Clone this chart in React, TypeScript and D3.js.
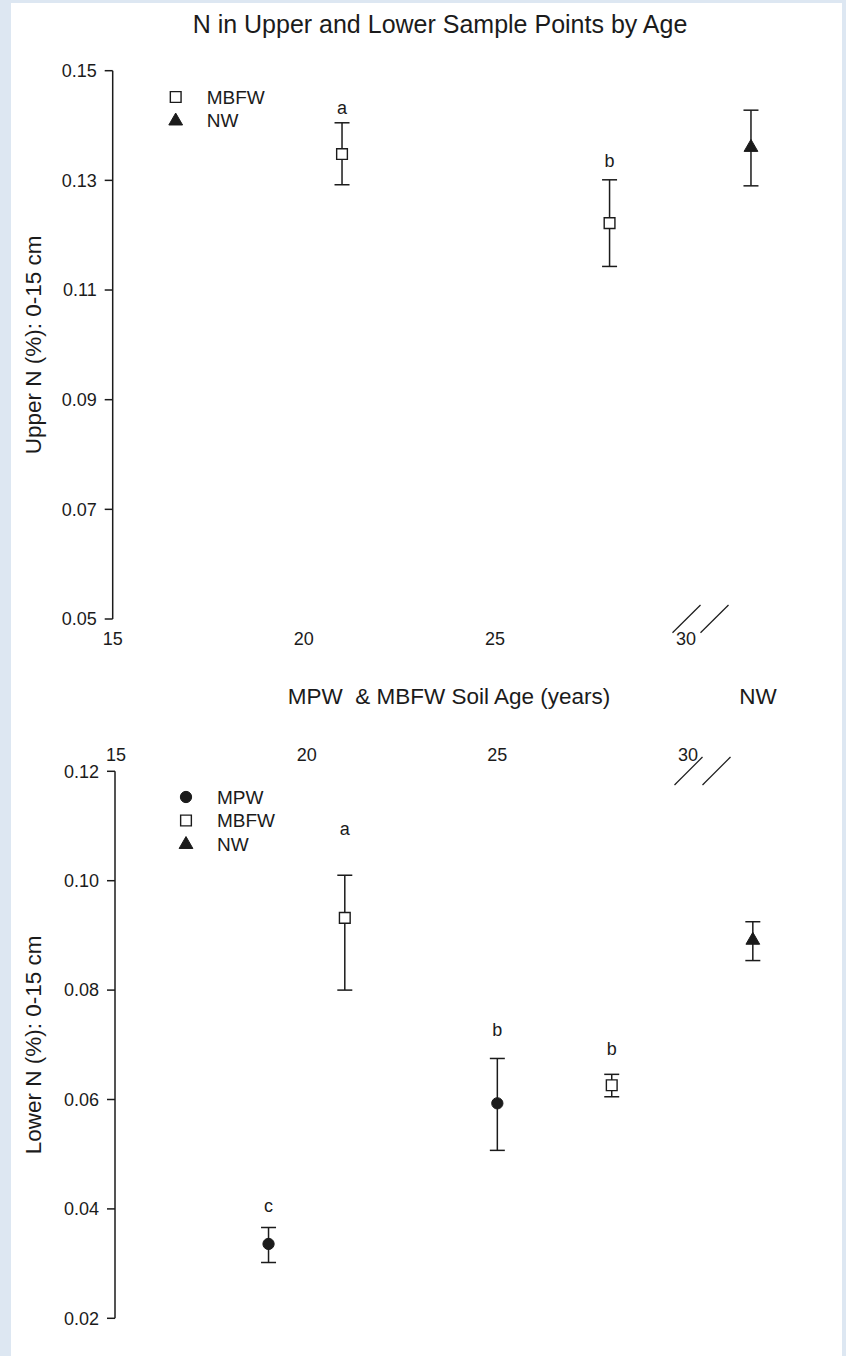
import React from "react";
import * as d3 from "d3";

// ---------- DATA ----------
const upperYTicks = [0.05, 0.07, 0.09, 0.11, 0.13, 0.15];
const lowerYTicks = [0.02, 0.04, 0.06, 0.08, 0.1, 0.12];
const ageTicks = [15, 20, 25, 30];
const nwAxisPos = 31.7; // position of the NW group after the axis break

const upperMBFW = [
  { age: 21, mean: 0.1348, lo: 0.1292, hi: 0.1405, letter: "a" },
  { age: 28, mean: 0.1222, lo: 0.1143, hi: 0.1301, letter: "b" },
];
const upperNW = [{ age: nwAxisPos, mean: 0.1361, lo: 0.129, hi: 0.1428, letter: "" }];

const lowerMPW = [
  { age: 19, mean: 0.0336, lo: 0.0302, hi: 0.0366, letter: "c" },
  { age: 25, mean: 0.0593, lo: 0.0507, hi: 0.0675, letter: "b" },
];
const lowerMBFW = [
  { age: 21, mean: 0.0932, lo: 0.08, hi: 0.101, letter: "a" },
  { age: 28, mean: 0.0626, lo: 0.0605, hi: 0.0646, letter: "b" },
];
const lowerNW = [{ age: nwAxisPos, mean: 0.0892, lo: 0.0854, hi: 0.0925, letter: "" }];

const upperLegend = ["MBFW", "NW"];
const lowerLegend = ["MPW", "MBFW", "NW"];

// ---------- STYLE ----------
const FONT = "'Liberation Sans', Arial, Helvetica, sans-serif";
const INK = "#1b1b1b";
const W = 846;
const H = 1356;
// gap (px) between the upper error cap and the baseline of each significance letter
const GAP_UPPER_MBFW = [9, 13];
const GAP_LOWER_MPW = [15, 22];
const GAP_LOWER_MBFW = [40, 19];

type Pt = { age: number; mean: number; lo: number; hi: number; letter: string };
type Kind = "MPW" | "MBFW" | "NW";

const symPath = (kind: Kind) => {
  if (kind === "MPW") return d3.symbol().type(d3.symbolCircle).size(100)()!;
  if (kind === "MBFW") return d3.symbol().type(d3.symbolSquare).size(115)()!;
  return d3.symbol().type(d3.symbolTriangle).size(82)()!;
};

function Marker({ kind, x, y }: { kind: Kind; x: number; y: number }) {
  const open = kind === "MBFW";
  return (
    <path
      d={symPath(kind)}
      transform={`translate(${x},${y + (kind === "NW" ? 0.5 : 0)})`}
      fill={open ? "#fff" : INK}
      stroke={INK}
      strokeWidth={open ? 1.4 : 1}
    />
  );
}

function Series({
  data,
  kind,
  x,
  y,
  gaps = [],
}: {
  data: Pt[];
  kind: Kind;
  x: d3.ScaleLinear<number, number>;
  y: d3.ScaleLinear<number, number>;
  gaps?: number[];
}) {
  return (
    <g>
      {data.map((d, i) => {
        const cx = x(d.age);
        return (
          <g key={i}>
            <line x1={cx} x2={cx} y1={y(d.hi)} y2={y(d.lo)} stroke={INK} strokeWidth={1.5} />
            <line x1={cx - 7.5} x2={cx + 7.5} y1={y(d.hi)} y2={y(d.hi)} stroke={INK} strokeWidth={1.5} />
            <line x1={cx - 7.5} x2={cx + 7.5} y1={y(d.lo)} y2={y(d.lo)} stroke={INK} strokeWidth={1.5} />
            <Marker kind={kind} x={cx} y={y(d.mean)} />
            {d.letter && (
              <text
                x={cx}
                y={y(d.hi) - (gaps[i] ?? 14)}
                textAnchor="middle"
                fontSize={18}
                fontFamily={FONT}
                fill={INK}
              >
                {d.letter}
              </text>
            )}
          </g>
        );
      })}
    </g>
  );
}

function YAxis({
  y,
  ticks,
  x0,
  title,
}: {
  y: d3.ScaleLinear<number, number>;
  ticks: number[];
  x0: number;
  title: string;
}) {
  const fmt = d3.format(".2f");
  const [a, b] = d3.extent(ticks) as [number, number];
  const mid = (y(a) + y(b)) / 2;
  return (
    <g>
      <line x1={x0} x2={x0} y1={y(a)} y2={y(b)} stroke={INK} strokeWidth={1.5} />
      {ticks.map((t) => (
        <g key={t}>
          <line x1={x0 - 8} x2={x0} y1={y(t)} y2={y(t)} stroke={INK} strokeWidth={1.5} />
          <text
            x={x0 - 16}
            y={y(t)}
            dy="0.35em"
            textAnchor="end"
            fontSize={18}
            fontFamily={FONT}
            fill={INK}
          >
            {fmt(t)}
          </text>
        </g>
      ))}
      <text
        transform={`translate(33,${mid}) rotate(-90)`}
        dy="0.35em"
        textAnchor="middle"
        fontSize={22.5}
        fontFamily={FONT}
        fill={INK}
      >
        {title}
      </text>
    </g>
  );
}

function Legend({ items, x, y }: { items: string[]; x: number; y: number }) {
  return (
    <g>
      {items.map((name, i) => (
        <g key={name}>
          <Marker kind={name as Kind} x={x} y={y + i * 23.5} />
          <text
            x={x + 31}
            y={y + i * 23.5}
            dy="0.35em"
            fontSize={19}
            fontFamily={FONT}
            fill={INK}
          >
            {name}
          </text>
        </g>
      ))}
    </g>
  );
}

function BreakMarks({ x, y0, y1 }: { x: d3.ScaleLinear<number, number>; y0: number; y1: number }) {
  const bx = x(30) - 13.5;
  return (
    <g stroke={INK} strokeWidth={1.2}>
      <line x1={bx} y1={y0} x2={bx + 28} y2={y1} />
      <line x1={bx + 28} y1={y0} x2={bx + 56} y2={y1} />
    </g>
  );
}

export default function App() {
  const xTop = d3.scaleLinear().domain([15, 30]).range([112.7, 686]);
  const yTop = d3.scaleLinear().domain([0.05, 0.15]).range([619, 70.7]);
  const xBot = d3.scaleLinear().domain([15, 30]).range([116, 688]);
  const yBot = d3.scaleLinear().domain([0.02, 0.12]).range([1318.3, 771.3]);

  return (
    <div style={{ position: "absolute", left: 0, top: 0 }}>
      <svg width={W} height={H} style={{ display: "block" }}>
        <rect x={0} y={0} width={W} height={H} fill="#dde7f2" />
        <rect x={11} y={3} width={831} height={H} fill="#ffffff" />

        <text x={440} y={33} textAnchor="middle" fontSize={25} fontFamily={FONT} fill={INK}>
          N in Upper and Lower Sample Points by Age
        </text>

        {/* ---------- Upper panel ---------- */}
        <YAxis y={yTop} ticks={upperYTicks} x0={xTop(15)} title="Upper N (%): 0-15 cm" />
        {ageTicks.map((t) => (
          <text key={t} x={xTop(t)} y={645} textAnchor="middle" fontSize={18} fontFamily={FONT} fill={INK}>
            {t}
          </text>
        ))}
        <BreakMarks x={xTop} y0={632.7} y1={605} />
        <Legend items={upperLegend} x={175.7} y={97} />
        <Series data={upperMBFW} kind="MBFW" x={xTop} y={yTop} gaps={GAP_UPPER_MBFW} />
        <Series data={upperNW} kind="NW" x={xTop} y={yTop} />

        <text
          x={449}
          y={704}
          textAnchor="middle"
          fontSize={22.5}
          fontFamily={FONT}
          fill={INK}
          style={{ whiteSpace: "pre" }}
        >
          {"MPW  & MBFW Soil Age (years)"}
        </text>
        <text x={758} y={704} textAnchor="middle" fontSize={22.5} fontFamily={FONT} fill={INK}>
          NW
        </text>

        {/* ---------- Lower panel ---------- */}
        <YAxis y={yBot} ticks={lowerYTicks} x0={xBot(15) - 1} title="Lower N (%): 0-15 cm" />
        {ageTicks.map((t) => (
          <text key={t} x={xBot(t)} y={760.7} textAnchor="middle" fontSize={18} fontFamily={FONT} fill={INK}>
            {t}
          </text>
        ))}
        <BreakMarks x={xBot} y0={785} y1={757} />
        <Legend items={lowerLegend} x={186} y={797} />
        <Series data={lowerMPW} kind="MPW" x={xBot} y={yBot} gaps={GAP_LOWER_MPW} />
        <Series data={lowerMBFW} kind="MBFW" x={xBot} y={yBot} gaps={GAP_LOWER_MBFW} />
        <Series data={lowerNW} kind="NW" x={xBot} y={yBot} />
      </svg>
    </div>
  );
}
